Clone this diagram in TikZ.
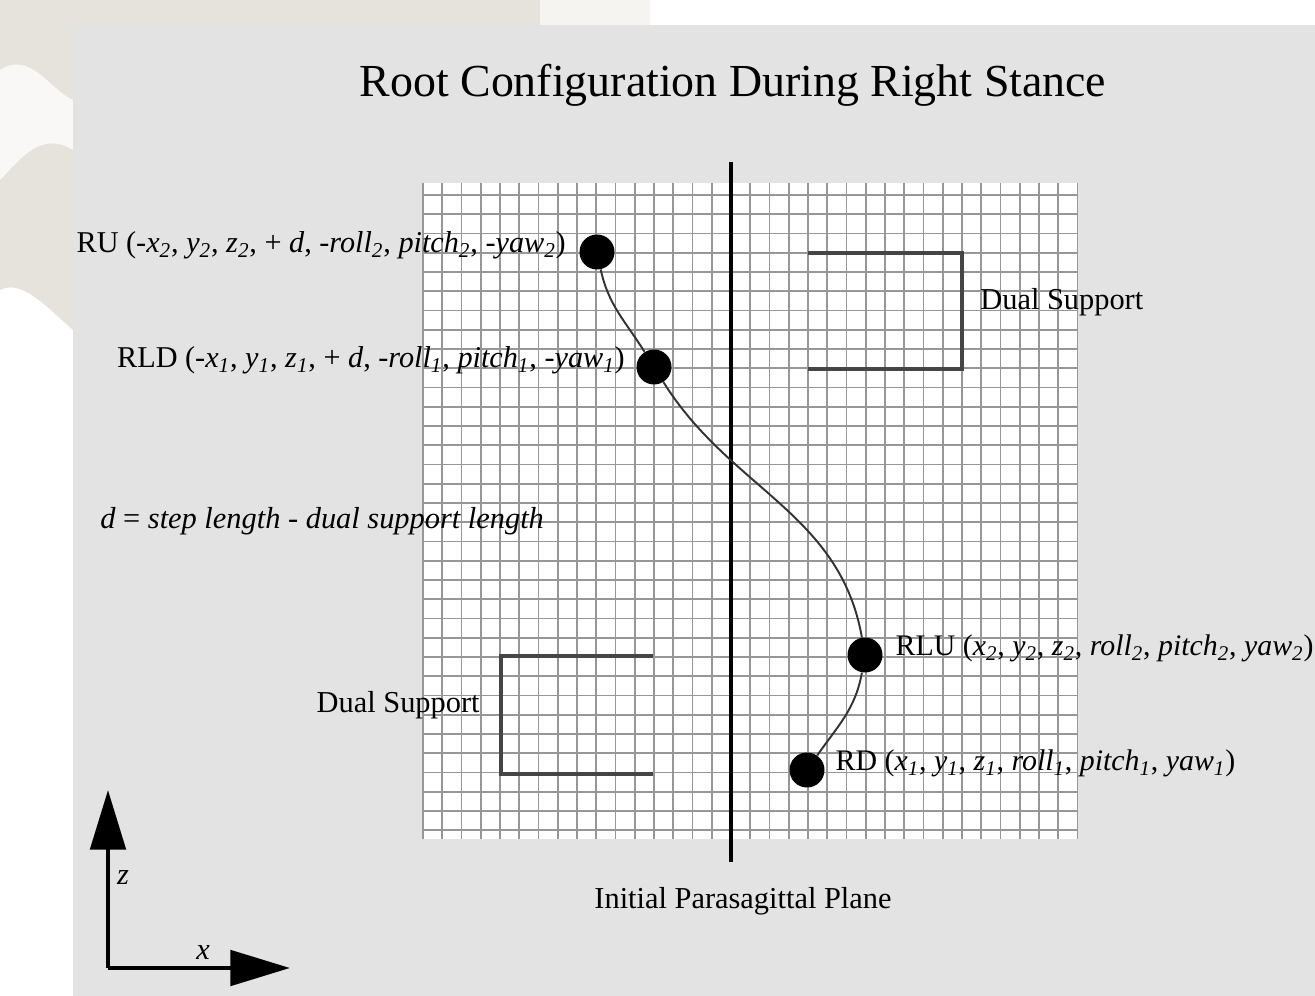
\documentclass[tikz,border=0pt]{standalone}
\usepackage{fontspec}
\setmainfont{Liberation Serif}
\usepackage{xcolor}
\usetikzlibrary{arrows.meta,positioning}
\definecolor{panelgray}{HTML}{E3E3E3}
\definecolor{photobeige}{HTML}{E6E3DC}
\definecolor{gridgray}{HTML}{979797}
\definecolor{brkgray}{HTML}{454545}
\newcommand{\vsub}[2]{\textit{#1}\textsubscript{\textit{#2}}}

\begin{document}
\begin{tikzpicture}[x=0.02cm, y=-0.02cm, font=\fontsize{17.3}{20}\selectfont, every node/.style={inner sep=0pt}]
        \tikzset{
            dot/.style={circle, fill=black, minimum size=0.7cm},
            lbl/.style={align=left, font=\fontsize{17}{20}\selectfont},
            lbll/.style={align=left, font=\fontsize{17.2}{20}\selectfont},
            gridln/.style={draw=gridgray, line width=0.95pt},
            brk/.style={draw=brkgray, line width=2.4pt},
            curve/.style={draw=black!80, line width=1.1pt},
            axis/.style={line width=2.8pt, -{Triangle[length=34pt, width=20pt]}}
        }
        \useasboundingbox (0,0) rectangle (1315,996);
        % backdrop
        \fill[white] (0,0) rectangle (1315,996);
        \fill[photobeige] (0,0) rectangle (650,25);
        \fill[photobeige] (0,0) -- (73,0) -- (73,330) .. controls (40,300) and (20,280) .. (0,290) -- cycle;
        \fill[white!75!photobeige] (0,70) .. controls (30,50) and (50,90) .. (73,100) -- (73,150) .. controls (40,130) and (20,160) .. (0,180) -- cycle;
        \fill[white!60!photobeige] (540,0) rectangle (650,25);
        \fill[panelgray] (73,25) rectangle (1315,996);
        % graph paper
        \fill[white] (423,183) rectangle (1077,839);
        \foreach \k in {0,...,34}
            \draw[gridln] ({423+19.25*\k},183) -- ({423+19.25*\k},839);
        \foreach \k in {0,...,33}
            \draw[gridln] (423,{195+19.25*\k}) -- (1077,{195+19.25*\k});
        % title and plane
        \node (title) at (733,85) {\fontsize{26.1}{30}\selectfont Root Configuration During Right Stance};
        \coordinate (ptop) at (731,162);
        \coordinate (pbot) at (731,862);
        \draw[line width=2.8pt] (ptop) -- (pbot);
        \node[below=0.5cm of pbot, xshift=0.24cm] (plane) {Initial Parasagittal Plane};
        % dual support brackets
        \coordinate (ua) at (808,253);
        \coordinate (ub) at (962,253);
        \coordinate (uc) at (962,369);
        \coordinate (ud) at (808,369);
        \draw[brk] (ua) -- (ub) -- (uc) -- (ud);
        \node[anchor=west] (dsup) at (980,302) {Dual Support};
        \coordinate (la) at (653,656);
        \coordinate (lb) at (501,656);
        \coordinate (lc) at (501,774);
        \coordinate (ld) at (653,774);
        \draw[brk] (la) -- (lb) -- (lc) -- (ld);
        \node[anchor=east] (dslo) at (480,705) {Dual Support};
        \node[anchor=west] (dlen) at (100,521) {\textit{d} = \textit{step length - dual support length}};
        % root positions
        \node[dot] (ru) at (597,252) {};
        \node[dot] (rld) at (654,367) {};
        \node[dot] (rlu) at (865,655) {};
        \node[dot] (rd) at (807,770) {};
        \draw[curve] (ru) to[out=-78, in=122] (rld) to[out=-58, in=100] (rlu) to[out=-100, in=55] (rd);
        \node[lbll, left=0.26cm of ru, yshift=0.13cm] (rutxt) {RU (-\vsub{x}{2}, \vsub{y}{2}, \vsub{z}{2}, + \textit{d}, -\vsub{roll}{2}, \vsub{pitch}{2}, -\vsub{yaw}{2})};
        \node[lbll, left=0.22cm of rld, yshift=0.13cm] (rldtxt) {RLD (-\vsub{x}{1}, \vsub{y}{1}, \vsub{z}{1}, + \textit{d}, -\vsub{roll}{1}, \vsub{pitch}{1}, -\vsub{yaw}{1})};
        \node[lbl, right=0.25cm of rlu, yshift=0.13cm] (rlutxt) {RLU (\vsub{x}{2}, \vsub{y}{2}, \vsub{z}{2}, \vsub{roll}{2}, \vsub{pitch}{2}, \vsub{yaw}{2})};
        \node[lbl, right=0.21cm of rd, yshift=0.13cm] (rdtxt) {RD (\vsub{x}{1}, \vsub{y}{1}, \vsub{z}{1}, \vsub{roll}{1}, \vsub{pitch}{1}, \vsub{yaw}{1})};
        % axes
        \coordinate (org) at (108,968);
        \coordinate (ztip) at (108,790);
        \coordinate (xtip) at (290,968);
        \draw[axis] (org) -- (ztip);
        \draw[axis] (org) -- (xtip);
        \node (zlbl) at (123,878) {\textit{z}};
        \node (xlbl) at (203,953) {\textit{x}};
    \end{tikzpicture}
\end{document}
